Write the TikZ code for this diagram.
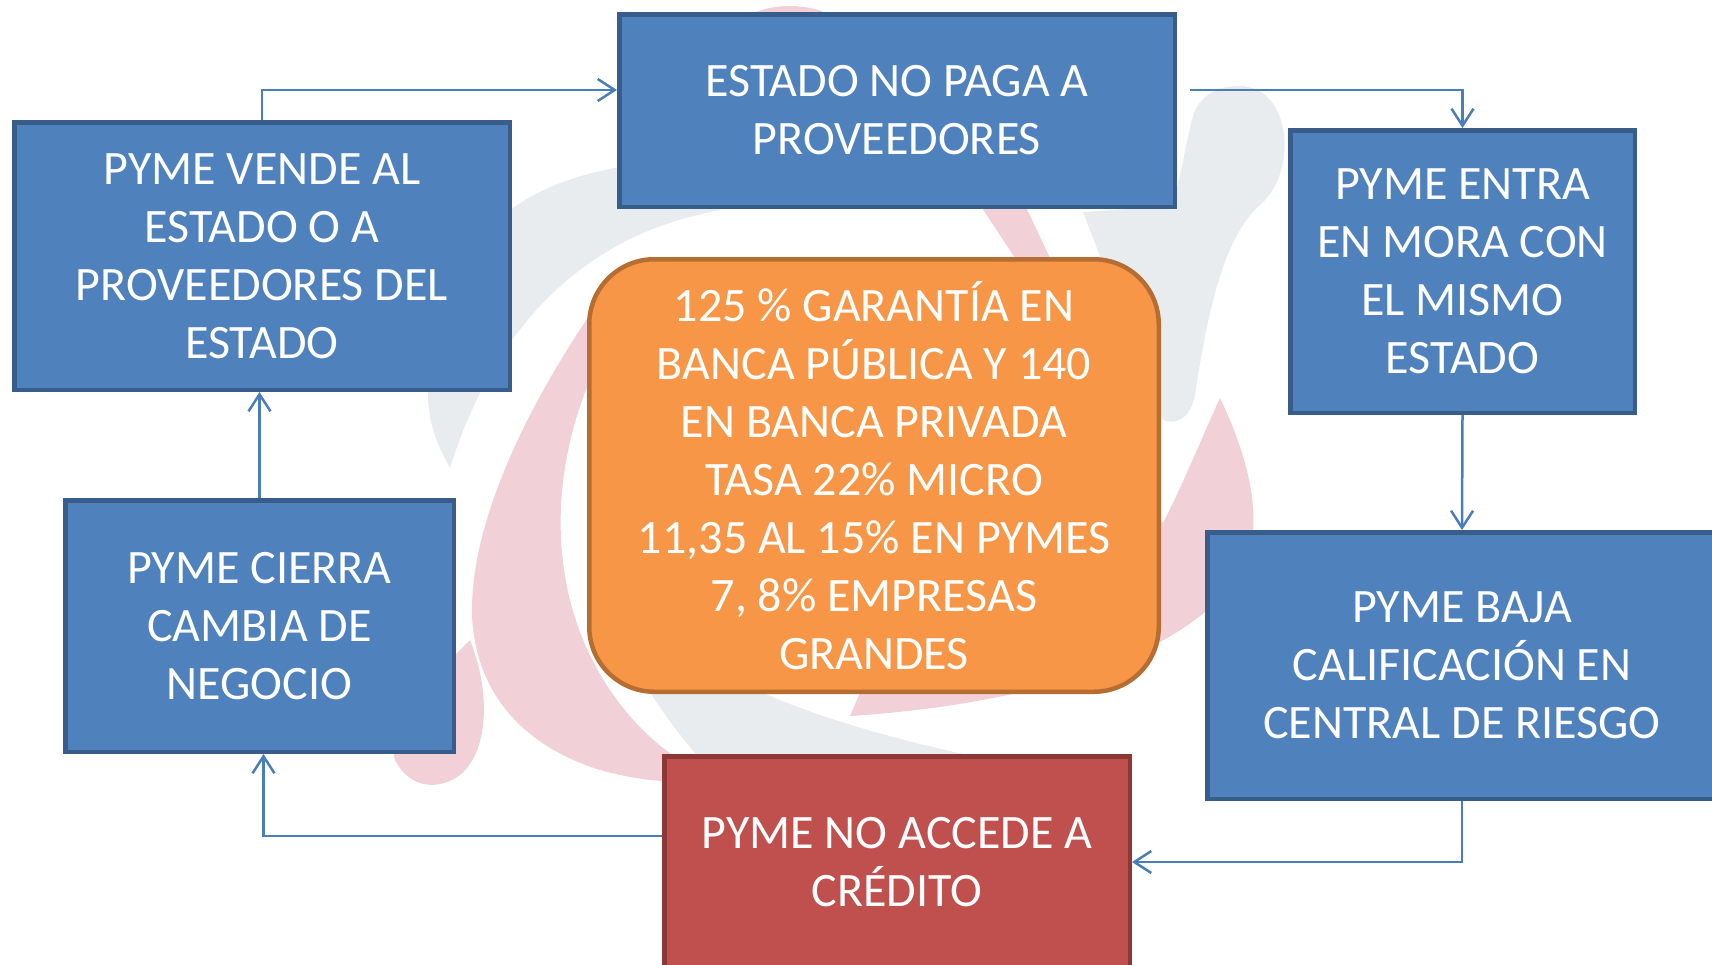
\documentclass[tikz,border=0pt]{standalone}
\usepackage{fontspec}
\setmainfont{Carlito}
\usetikzlibrary{arrows.meta,calc}
\definecolor{bfill}{HTML}{4F81BD}
\definecolor{bline}{HTML}{385D8A}
\definecolor{rfill}{HTML}{C0504D}
\definecolor{rline}{HTML}{8C3836}
\definecolor{ofill}{HTML}{F79646}
\definecolor{oline}{HTML}{B66D31}
\definecolor{cline}{HTML}{4A7EBB}
\definecolor{wmpink}{HTML}{F1D0D8}
\definecolor{wmgray}{HTML}{E9ECEE}
\begin{document}
\begin{tikzpicture}[x=1pt,y=-1pt,
  box/.style={draw=bline, fill=bfill, line width=4.5pt, inner sep=0pt, text=white, align=center, font=\fontsize{48}{58}\selectfont},
  redbox/.style={box, draw=rline, fill=rfill},
  orbox/.style={box, draw=oline, fill=ofill, rounded corners=65pt},
  conn/.style={draw=cline, line width=2.5pt, -{Straight Barb[length=17pt,width=22pt]}}]
\useasboundingbox (0,0) rectangle (1712,964);
% watermark (faint logo)
\fill[wmgray] (700,160) .. controls (600,160) and (520,190) .. (490,230) .. controls (450,290) and (425,360) .. (428,400) .. controls (430,430) and (440,450) .. (450,468) .. controls (465,420) and (500,330) .. (580,270) .. controls (620,240) and (660,222) .. (720,210) -- cycle;
\fill[wmgray] (1240,86) .. controls (1290,86) and (1300,170) .. (1260,205) .. controls (1220,240) and (1205,330) .. (1195,395) .. controls (1190,420) and (1175,425) .. (1163,420) -- (1083,212) -- (1170,206) .. controls (1180,190) and (1185,140) .. (1195,110) .. controls (1205,92) and (1220,86) .. (1240,86) -- cycle;
\fill[wmgray] (620,640) .. controls (650,700) and (690,750) .. (715,775) -- (1070,775) .. controls (900,745) and (780,710) .. (700,660) -- cycle;
\fill[wmpink] (600,300) .. controls (530,400) and (470,520) .. (472,615) .. controls (475,690) and (520,745) .. (600,770) .. controls (630,778) and (650,781) .. (680,782) -- (680,760) .. controls (640,735) and (590,680) .. (570,600) .. controls (550,520) and (560,420) .. (620,320) -- cycle;
\fill[wmpink] (470,640) .. controls (490,690) and (490,750) .. (460,775) .. controls (440,790) and (410,790) .. (395,760) .. controls (385,730) and (430,680) .. (470,640) -- cycle;
\fill[wmpink] (980,205) -- (1025,205) -- (1050,258) -- (1140,500) -- (1163,523) .. controls (1185,480) and (1205,430) .. (1220,398) .. controls (1245,450) and (1258,500) .. (1252,540) .. controls (1240,620) and (1100,700) .. (850,716) -- (900,600) -- (1015,258) -- cycle;
\fill[wmpink] (790,40) ellipse [x radius=60, y radius=34];
% nodes
\node[box, minimum width=555.5pt, minimum height=192.5pt] (estado) at (897,110.5) {ESTADO NO PAGA A\\PROVEEDORES};
\node[box, minimum width=495.5pt, minimum height=267.5pt] (vende) at (262,256) {PYME VENDE AL\\ESTADO O A\\PROVEEDORES DEL\\ESTADO};
\node[box, minimum width=344.5pt, minimum height=282.5pt] (mora) at (1462.5,271.5) {PYME ENTRA\\EN MORA CON\\EL MISMO\\ESTADO};
\node[box, minimum width=388.5pt, minimum height=251.5pt] (cierra) at (259.5,626) {PYME CIERRA\\CAMBIA DE\\NEGOCIO};
\node[box, minimum width=509.5pt, minimum height=266.5pt] (baja) at (1462,665.5) {PYME BAJA\\CALIFICACIÓN EN\\CENTRAL DE RIESGO};
\node[redbox, minimum width=465.5pt, minimum height=211.5pt] (credito) at (897,862) {PYME NO ACCEDE A\\CRÉDITO};
\node[orbox, minimum width=569.5pt, minimum height=432.5pt] (tasa) at (874,475.5) {125 \% GARANTÍA EN\\BANCA PÚBLICA Y 140\\EN BANCA PRIVADA\\TASA 22\% MICRO\\11,35 AL 15\% EN PYMES\\7, 8\% EMPRESAS\\GRANDES};
% connectors
\coordinate (y1) at (0,90);
\coordinate (s2) at (1190,90);
\coordinate (y5) at (0,836);
\draw[conn] (vende.north) |- (estado.west |- y1);
\draw[conn] (s2) -| (mora.north);
\draw[conn] (mora.south) -- (baja.north);
\draw[conn] (baja.south) |- (credito.east);
\draw[conn] (credito.west |- y5) -| ($(cierra.south)+(4,0)$);
\draw[conn] (cierra.north) -- (cierra.north |- vende.south);
\end{tikzpicture}
\end{document}
